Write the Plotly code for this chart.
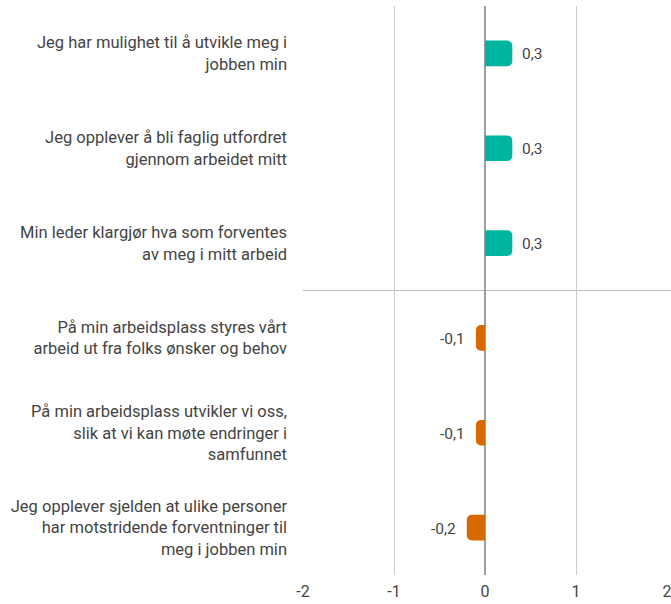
import plotly.graph_objects as go

categories = [
    "Jeg har mulighet til å utvikle meg i<br>jobben min",
    "Jeg opplever å bli faglig utfordret<br>gjennom arbeidet mitt",
    "Min leder klargjør hva som forventes<br>av meg i mitt arbeid",
    "På min arbeidsplass styres vårt<br>arbeid ut fra folks ønsker og behov",
    "På min arbeidsplass utvikler vi oss,<br>slik at vi kan møte endringer i<br>samfunnet",
    "Jeg opplever sjelden at ulike personer<br>har motstridende forventninger til<br>meg i jobben min",
]
values = [0.3, 0.3, 0.3, -0.1, -0.1, -0.2]
value_labels = ["0,3", "0,3", "0,3", "-0,1", "-0,1", "-0,2"]
tick_vals = [-2, -1, 0, 1, 2]
tick_text = ["-2", "-1", "0", "1", "2"]

POS = "#00B5A0"
NEG = "#D96800"
TXT = "#444444"

colors = [POS if v >= 0 else NEG for v in values]

fig = go.Figure(go.Bar(
    x=values, y=categories, orientation="h",
    marker=dict(color=colors, line=dict(width=0)),
    width=0.27, hoverinfo="skip",
))

for cat, v, lab in zip(categories, values, value_labels):
    fig.add_annotation(
        x=v, y=cat, xref="x", yref="y", text=lab, showarrow=False,
        xanchor="left" if v >= 0 else "right",
        xshift=8 if v >= 0 else -9, yshift=-1,
        font=dict(family="Roboto", size=15.5, color=TXT),
    )

fig.add_shape(type="line", xref="paper", yref="y",
              x0=0, x1=1.02, y0=2.5, y1=2.5,
              line=dict(color="#BDBDBD", width=1.2), layer="below")

fig.update_layout(
    width=671, height=604,
    margin=dict(l=303, r=4, t=6, b=29),
    paper_bgcolor="white", plot_bgcolor="white",
    showlegend=False,
    barcornerradius=5,
    font=dict(family="Roboto", size=16.5, color=TXT),
    xaxis=dict(range=[-2, 2], tickvals=tick_vals, ticktext=tick_text,
               showgrid=True, gridcolor="#CCCCCC", gridwidth=1,
               zeroline=True, zerolinecolor="#9E9E9E", zerolinewidth=1.5,
               showline=False, ticks="", tickfont=dict(size=16, color=TXT),
               ticklabeloverflow="allow", ticklabelstandoff=5,
               automargin=False, fixedrange=True),
    yaxis=dict(categoryorder="array", categoryarray=categories,
               autorange="reversed", showgrid=False, zeroline=False,
               showline=False, ticks="", ticklabelstandoff=15,
               tickfont=dict(size=16.5, color=TXT),
               automargin=False, fixedrange=True),
)

fig.write_html("out.html",
               config={"displayModeBar": False, "staticPlot": True},
               post_script="document.body.style.margin='0';document.body.style.overflow='hidden';")
